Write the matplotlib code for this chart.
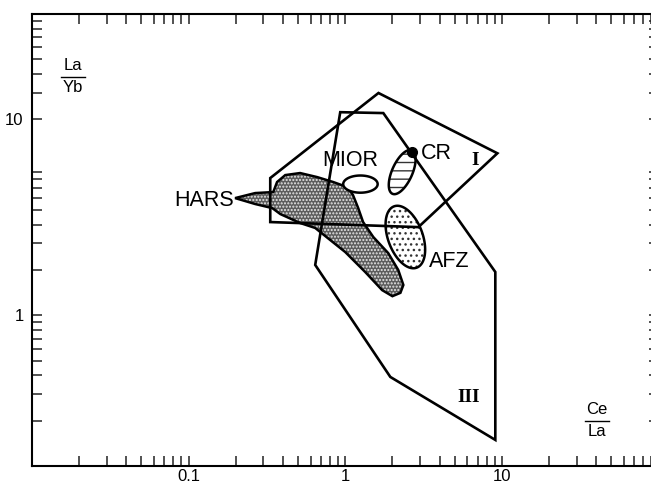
import numpy as np
import matplotlib.pyplot as plt
from matplotlib.lines import Line2D
from matplotlib.ticker import FixedLocator, LogLocator, NullFormatter, FixedFormatter

plt.rcParams['font.family'] = ['Liberation Sans', 'DejaVu Sans']
plt.rcParams['hatch.linewidth'] = 1.0

# field I and field III outlines (Ce/La, La/Yb)
field1_x = [0.332, 1.63, 9.36, 2.93, 0.332]
field1_y = [8.15, 29.9, 11.9, 3.85, 4.16]
field3_x = [0.929, 1.75, 9.08, 9.08, 1.94, 0.643]
field3_y = [22.3, 22.0, 1.94, 0.149, 0.39, 2.16]

# HARS field (stippled)
hars_x = [0.414, 0.515, 0.662, 0.838, 1.03, 1.12, 1.21, 1.30, 1.51, 1.88, 2.18, 2.35,
          2.25, 2.00, 1.72, 1.34, 1.00, 0.745, 0.643, 0.515, 0.385, 0.342, 0.266,
          0.198, 0.266, 0.347, 0.367]
hars_y = [8.53, 8.80, 8.27, 7.67, 7.10, 6.29, 5.15, 4.16, 3.31, 2.59, 2.00, 1.59,
          1.41, 1.34, 1.47, 1.94, 2.63, 3.36, 3.80, 4.10, 4.70, 5.15, 5.48,
          6.00, 6.48, 6.58, 7.67]

# ellipses: centre x, centre y, half axes (decades), tilt (deg)
mior = (1.25, 7.43, 0.11, 0.057, 0)
cr = (2.31, 8.93, 0.157, 0.065, 67)
afz = (2.42, 3.31, 0.216, 0.111, 109)
cr_dot = (2.68, 12.1)

xticks = [0.1, 1, 10]
xlabels = ['0.1', '1', '10']
yticks = [1, 20]
ylabels = ['1', '10']


def ellipse(cx, cy, a, b, ang):
    t = np.linspace(0, 2 * np.pi, 120)
    r = np.radians(ang)
    lx = a * np.cos(t) * np.cos(r) - b * np.sin(t) * np.sin(r)
    ly = a * np.cos(t) * np.sin(r) + b * np.sin(t) * np.cos(r)
    return cx * 10 ** lx, cy * 10 ** ly


W, H = 651, 483
fig = plt.figure(figsize=(W / 100, H / 100), dpi=100)
ax = fig.add_axes([32 / W, 17 / H, 626.5 / W, 452 / H])
ax.set_xscale('log')
ax.set_yscale('log')
ax.set_xlim(0.01, 100)
ax.set_ylim(0.1, 100)

# HARS
ax.fill(hars_x, hars_y, facecolor='#5c5c5c', edgecolor='#e8e8e8', lw=0, hatch='.....', zorder=2)
ax.fill(hars_x, hars_y, facecolor='none', edgecolor='black', lw=1.8, zorder=3)

# MIOR
ex, ey = ellipse(*mior)
ax.fill(ex, ey, facecolor='white', edgecolor='black', lw=1.8, zorder=3)

# CR
ex, ey = ellipse(*cr)
ax.fill(ex, ey, facecolor='white', edgecolor='#333333', lw=0, hatch='--', zorder=2)
ax.fill(ex, ey, facecolor='none', edgecolor='black', lw=1.8, zorder=3)
ax.plot(*cr_dot, 'o', color='black', ms=7, zorder=4)

# AFZ
ex, ey = ellipse(*afz)
ax.fill(ex, ey, facecolor='white', edgecolor='#333333', lw=0, hatch='...', zorder=2)
ax.fill(ex, ey, facecolor='none', edgecolor='black', lw=1.8, zorder=3)

# fields I and III
ax.fill(field1_x, field1_y, facecolor='none', edgecolor='black', lw=1.9, zorder=4)
ax.fill(field3_x, field3_y, facecolor='none', edgecolor='black', lw=1.9, zorder=4)

fs = 15.5
ax.text(0.196, 5.82, 'HARS', fontsize=fs, ha='right', va='center', zorder=5)
ax.text(1.08, 10.7, 'MIOR', fontsize=fs, ha='center', va='center', zorder=5)
ax.text(3.8, 11.8, 'CR', fontsize=fs, ha='center', va='center', zorder=5)
ax.text(4.6, 2.26, 'AFZ', fontsize=fs, ha='center', va='center', zorder=5)
ax.text(6.77, 10.7, 'I', fontsize=14, ha='center', va='center', weight='bold',
        family='Liberation Serif', zorder=5)
ax.text(6.11, 0.287, 'III', fontsize=14, ha='center', va='center', weight='bold',
        family='Liberation Serif', zorder=5)

ax.xaxis.set_major_locator(FixedLocator(xticks))
ax.xaxis.set_major_formatter(FixedFormatter(xlabels))
ax.xaxis.set_minor_locator(LogLocator(subs=np.arange(2, 10)))
ax.xaxis.set_minor_formatter(NullFormatter())
ax.yaxis.set_major_locator(FixedLocator(yticks))
ax.yaxis.set_major_formatter(FixedFormatter(ylabels))
ax.yaxis.set_minor_locator(LogLocator(subs=np.arange(2, 10)))
ax.yaxis.set_minor_formatter(NullFormatter())
ax.tick_params(which='both', direction='in', top=True, right=True,
               length=7, width=1.1, labelsize=12, color='#222222')
ax.tick_params(axis='x', pad=2)
ax.tick_params(axis='y', pad=6)
for s in ax.spines.values():
    s.set_linewidth(1.5)

# axis names written as fractions
def frac(x, y, top, bottom):
    fig.text(x / W, 1 - (y - 11) / H, top, fontsize=12, ha='center', va='center')
    fig.text(x / W, 1 - (y + 11) / H, bottom, fontsize=12, ha='center', va='center')
    fig.add_artist(Line2D([(x - 12) / W, (x + 12) / W], [1 - y / H] * 2, color='black', lw=1))

frac(73, 77, 'La', 'Yb')
frac(597, 421, 'Ce', 'La')

fig.savefig('out.png', dpi=100)
